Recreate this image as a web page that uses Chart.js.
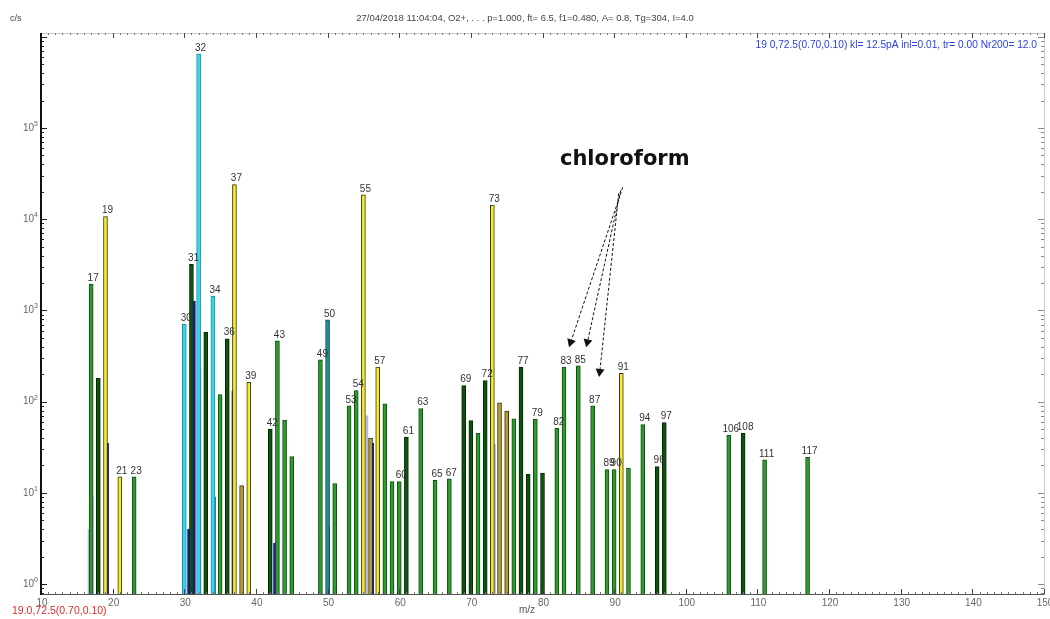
<!DOCTYPE html>
<html>
<head>
<meta charset="utf-8">
<script src="https://cdn.jsdelivr.net/npm/chart.js@4/dist/chart.umd.min.js"></script>
<style>
  html, body { margin: 0; padding: 0; background: #fff; }
  canvas { display: block; }
</style>
</head>
<body>
<canvas id="spec" width="1050" height="619"></canvas>
<script>
// Peak intensities (c/s) at each m/z, grouped by the colour of their bar
const greenMz   = [17, 23, 35, 43, 44, 45, 49, 51, 53, 54, 58, 59, 60, 63, 65, 67, 71, 76, 79, 82, 83, 85, 87, 89, 90, 92, 94, 106, 111, 117];
const greenCps  = [1950, 15, 120, 465, 63, 25, 288, 12.7, 90, 132, 95, 13.3, 13.3, 84, 13.7, 14.3, 45, 65, 64, 51, 240, 247, 90, 18, 18, 18.7, 56, 43, 23, 24.5];

const darkMz    = [18, 31, 33, 36, 42, 61, 69, 70, 72, 77, 78, 80, 96, 97, 108];
const darkCps   = [180, 3200, 580, 490, 50, 41, 150, 62, 170, 240, 16, 16.5, 19.5, 59, 45];

const yellowMz  = [19, 21, 37, 39, 55, 57, 73, 91];
const yellowCps = [10700, 15, 24000, 163, 18500, 240, 14300, 204];

const oliveMz   = [38, 56, 74, 75];
const oliveCps  = [12, 40, 97, 79];

const cyanMz    = [30, 32, 34];
const cyanCps   = [710, 650000, 1440];

const tealMz    = [50];
const tealCps   = [790];

// profile-scan traces underneath the peak bars
const navyMz    = [17.1, 19.3, 30.6, 31.4, 32.0, 34.2, 35.9, 36.8, 42.6, 49.0, 50.1, 55.0, 56.3, 73.0, 83.1, 85.0];
const navyCps   = [9, 35, 4, 1260, 2500, 9, 28, 130, 2.8, 3.2, 4.3, 100, 35, 55, 1.7, 1.8];
const lilacMz   = [16.7, 19.0, 32.2, 36.9, 55.5, 73.3];
const lilacCps  = [4, 21, 230, 93, 70, 34];

// peaks that carry an m/z label
const labelledMz = [17, 19, 21, 23, 30, 31, 32, 34, 36, 37, 39, 42, 43, 49, 50, 53, 54, 55, 57, 60, 61, 63, 65, 67,
                    69, 72, 73, 77, 79, 82, 83, 85, 87, 89, 90, 91, 94, 96, 97, 106, 108, 111, 117];

// chloroform fragments pointed out by the arrows
const chloroTipMz  = [83.7, 86.1, 87.9];
const chloroTipCps = [395, 395, 187];
const chloroFrom   = [91.2, 22400];

const xTickValues = [10, 20, 30, 40, 50, 60, 70, 80, 90, 100, 110, 120, 130, 140, 150];
const yDecades    = [0, 1, 2, 3, 4, 5];

const FONT = "'Liberation Sans', Arial, sans-serif";

function points(mz, cps) { return mz.map((m, i) => ({ x: m, y: cps[i] })); }

function barSet(label, mz, cps, fill, edge, order, thick, bw) {
  return {
    type: 'bar', label, data: points(mz, cps),
    backgroundColor: fill, borderColor: edge, borderWidth: bw,
    barThickness: thick, grouped: false, order, borderSkipped: 'start'
  };
}

// look up the intensity of a labelled peak
const allPeaks = {};
[[greenMz, greenCps], [darkMz, darkCps], [yellowMz, yellowCps], [oliveMz, oliveCps], [cyanMz, cyanCps], [tealMz, tealCps]]
  .forEach(([m, c]) => m.forEach((v, i) => { allPeaks[v] = c[i]; }));

const framePlugin = {
  id: 'frame',
  beforeDraw(chart) {
    const ctx = chart.ctx;
    ctx.save();
    ctx.fillStyle = '#fff';
    ctx.fillRect(0, 0, chart.width, chart.height);
    ctx.restore();
  },
  afterDatasetsDraw(chart) {
    const ctx = chart.ctx;
    const a = chart.chartArea;
    const xs = chart.scales.x, ys = chart.scales.y;
    ctx.save();

    // outer frame
    ctx.strokeStyle = '#c9c9c9';
    ctx.lineWidth = 1;
    ctx.beginPath();
    ctx.moveTo(a.left, a.top + 0.5); ctx.lineTo(a.right + 0.5, a.top + 0.5);
    ctx.lineTo(a.right + 0.5, a.bottom);
    ctx.stroke();

    // bottom axis line
    ctx.strokeStyle = '#555';
    ctx.beginPath();
    ctx.moveTo(a.left, a.bottom + 0.5); ctx.lineTo(a.right + 0.5, a.bottom + 0.5);
    ctx.stroke();

    // m/z ruler ticks, top and bottom
    for (let m = 10; m <= 150; m++) {
      const px = Math.round(xs.getPixelForValue(m)) + 0.5;
      const major = m % 10 === 0;
      const len = major ? 5 : 2;
      ctx.strokeStyle = major ? '#444' : '#777';
      ctx.beginPath();
      ctx.moveTo(px, a.bottom); ctx.lineTo(px, a.bottom - len);
      ctx.moveTo(px, a.top); ctx.lineTo(px, a.top + len);
      ctx.stroke();
    }

    // m/z tick labels
    ctx.font = '10px ' + FONT;
    ctx.fillStyle = '#666';
    ctx.textAlign = 'center';
    ctx.textBaseline = 'middle';
    xTickValues.forEach(v => {
      ctx.fillText(String(v), xs.getPixelForValue(v) + 1, a.bottom + 9);
    });

    // log ticks on left and right edges
    for (let k = -1; k <= 6; k++) {
      for (let d = 1; d <= 9; d++) {
        const v = d * Math.pow(10, k);
        if (v < ys.min || v > ys.max) continue;
        const py = Math.round(ys.getPixelForValue(v)) + 0.5;
        const len = d === 1 ? 6 : 3;
        ctx.strokeStyle = '#222';
        ctx.beginPath();
        ctx.moveTo(a.left, py); ctx.lineTo(a.left + len, py);
        ctx.stroke();
        ctx.strokeStyle = '#888';
        ctx.beginPath();
        ctx.moveTo(a.right, py); ctx.lineTo(a.right - len, py);
        ctx.stroke();
      }
    }

    // left axis
    ctx.strokeStyle = '#111';
    ctx.lineWidth = 2;
    ctx.beginPath();
    ctx.moveTo(a.left, a.top); ctx.lineTo(a.left, a.bottom + 1);
    ctx.stroke();

    // decade labels 10^k
    ctx.fillStyle = '#666';
    ctx.textBaseline = 'middle';
    yDecades.forEach(k => {
      const py = ys.getPixelForValue(Math.pow(10, k));
      ctx.font = '7px ' + FONT;
      const ew = ctx.measureText(String(k)).width;
      ctx.textAlign = 'right';
      ctx.fillText(String(k), a.left - 3, py - 4);
      ctx.font = '10px ' + FONT;
      ctx.fillText('10', a.left - 3 - ew, py);
    });

    // m/z labels above peaks
    ctx.font = '10px ' + FONT;
    ctx.fillStyle = '#333';
    ctx.textAlign = 'center';
    ctx.textBaseline = 'bottom';
    labelledMz.forEach(m => {
      const px = xs.getPixelForValue(m) + 2;
      const py = ys.getPixelForValue(allPeaks[m]) - 1;
      ctx.fillText(String(m), px, py);
    });

    // chloroform callout
    const fx = xs.getPixelForValue(chloroFrom[0]);
    const fy = ys.getPixelForValue(chloroFrom[1]);
    ctx.strokeStyle = '#111';
    ctx.fillStyle = '#111';
    ctx.lineWidth = 1;
    chloroTipMz.forEach((m, i) => {
      const tx = xs.getPixelForValue(m);
      const ty = ys.getPixelForValue(chloroTipCps[i]);
      const ang = Math.atan2(ty - fy, tx - fx);
      const hx = tx - 8 * Math.cos(ang), hy = ty - 8 * Math.sin(ang);
      ctx.setLineDash([3, 2]);
      ctx.beginPath();
      ctx.moveTo(fx - i * 2, fy + i * 3);
      ctx.lineTo(hx, hy);
      ctx.stroke();
      ctx.setLineDash([]);
      ctx.beginPath();
      ctx.moveTo(tx, ty);
      ctx.lineTo(hx + 4.5 * Math.sin(ang), hy - 4.5 * Math.cos(ang));
      ctx.lineTo(hx - 4.5 * Math.sin(ang), hy + 4.5 * Math.cos(ang));
      ctx.closePath();
      ctx.fill();
    });
    ctx.font = "bold 21px 'DejaVu Sans', Verdana, sans-serif";
    ctx.textAlign = 'center';
    ctx.textBaseline = 'middle';
    ctx.fillText('chloroform', fx + 2, fy - 28);

    // header and footer text
    ctx.font = '9px ' + FONT;
    ctx.fillStyle = '#444';
    ctx.textAlign = 'left';
    ctx.fillText('c/s', 10, 19);
    ctx.font = '9.5px ' + FONT;
    ctx.textAlign = 'center';
    ctx.fillText('27/04/2018 11:04:04, O2+, . . . p=1.000, ft= 6.5, f1=0.480, A= 0.8, Tg=304, I=4.0', 525, 18);
    ctx.font = '10.2px ' + FONT;
    ctx.fillStyle = '#2a3fe0';
    ctx.textAlign = 'right';
    ctx.fillText('19 0,72.5(0.70,0.10) kl= 12.5pA inl=0.01, tr= 0.00 Nr200= 12.0', 1037, 45);
    ctx.fillStyle = '#e02a2a';
    ctx.textAlign = 'left';
    ctx.font = '10.5px ' + FONT;
    ctx.fillText('19.0,72.5(0.70,0.10)', 12, 611);
    ctx.font = '10px ' + FONT;
    ctx.fillStyle = '#555';
    ctx.textAlign = 'center';
    ctx.fillText('m/z', 527, 610);

    ctx.restore();
  }
};

new Chart(document.getElementById('spec'), {
  type: 'bar',
  data: {
    datasets: [
      barSet('trace', navyMz, navyCps, '#1c1ca8', '#1c1ca8', 9, 2, 0),
      barSet('trace 2', lilacMz, lilacCps, '#b8b8ea', '#b8b8ea', 10, 2, 0),
      barSet('green', greenMz, greenCps, '#2f9a2f', '#0e4e0e', 5, 4, 1),
      barSet('dark green', darkMz, darkCps, '#0f520f', '#062806', 5, 4, 1),
      barSet('yellow', yellowMz, yellowCps, '#f2ea2a', '#3c3a10', 4, 4, 1),
      barSet('olive', oliveMz, oliveCps, '#b8a030', '#3c3210', 5, 4, 1),
      barSet('cyan', cyanMz, cyanCps, '#3ad8e8', '#1a8e9a', 4, 4, 1),
      barSet('teal', tealMz, tealCps, '#1e8e8e', '#0a4a4a', 5, 4, 1)
    ]
  },
  options: {
    responsive: false,
    animation: false,
    events: [],
    layout: { padding: { top: 33, right: 6, left: 0, bottom: 0 } },
    plugins: { legend: { display: false }, tooltip: { enabled: false } },
    scales: {
      x: {
        type: 'linear', min: 10, max: 150, offset: false,
        afterFit: s => { s.height = 25; },
        grid: { display: false, drawTicks: false },
        border: { display: false },
        ticks: { display: false }
      },
      y: {
        type: 'logarithmic', min: 0.78, max: 1.1e6,
        afterFit: s => { s.width = 41; },
        grid: { display: false, drawTicks: false },
        border: { display: false },
        ticks: { display: false }
      }
    }
  },
  plugins: [framePlugin]
});
</script>
</body>
</html>
